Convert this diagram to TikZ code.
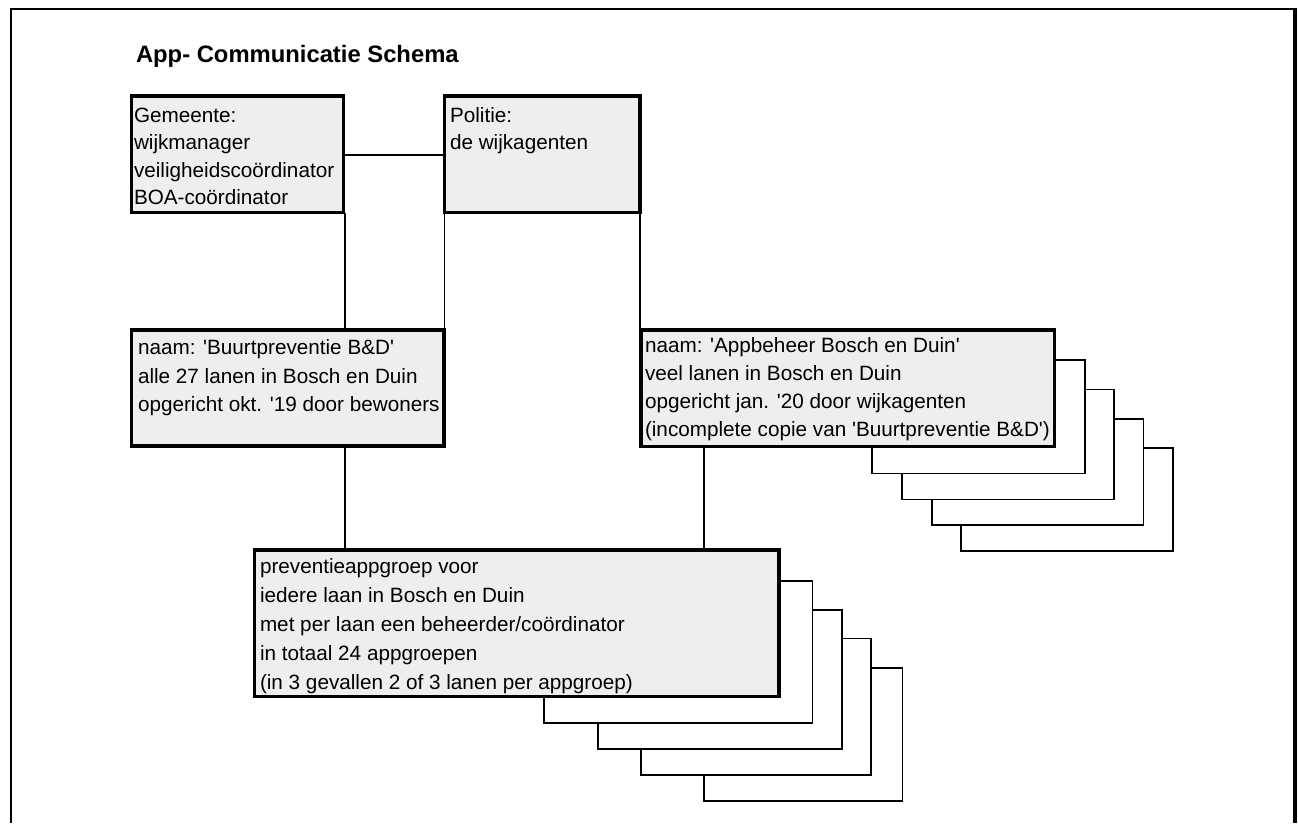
\documentclass[tikz,border=0pt]{standalone}
\usepackage{fontspec}
\setmainfont{Liberation Sans}[Ligatures=TeXOff]
\definecolor{boxgray}{RGB}{238,238,238}
\newcommand\linesat[2]{\vtop{\baselineskip=#1\relax\lineskiplimit=-100pt\lineskip=0pt #2}}
\tikzset{
  mainbox/.style={draw=black, fill=boxgray, line width=3.3pt, inner sep=0pt, outer sep=0pt, anchor=north west},
  stackbox/.style={draw=black, fill=white, line width=1.7pt, inner sep=0pt, outer sep=0pt, anchor=north west},
  txt/.style={anchor=base west, inner sep=0pt, outer sep=0pt, font=\fontsize{20.7}{28}\selectfont},
  titletxt/.style={anchor=base west, inner sep=0pt, outer sep=0pt, font=\fontsize{23.8}{28}\selectfont\bfseries},
  conn/.style={draw=black, line width=1.7pt},
  frame/.style={draw=black},
}
\begin{document}
\begin{tikzpicture}[x=1pt, y=-1pt]
\useasboundingbox (0,0) rectangle (1298,823);
% frame
\draw[frame, line width=2pt] (11,823) -- (11,9) -- (1295,9);
\draw[frame, line width=3.5pt] (1295,8) -- (1295,823);
% title
\node[titletxt] (title) at (136,62) {App- Communicatie Schema};
% stacks behind Appbeheer box
\node[stackbox, minimum width=211.5pt, minimum height=103pt] (ra4) at (961.3,447.8) {};
\node[stackbox, minimum width=211.5pt, minimum height=106.2pt] (ra3) at (932,419) {};
\node[stackbox, minimum width=211.9pt, minimum height=110pt] (ra2) at (902.3,389.5) {};
\node[stackbox, minimum width=213pt, minimum height=113.5pt] (ra1) at (872,360) {};
% stacks behind bottom box
\node[stackbox, minimum width=198.2pt, minimum height=133pt] (rm4) at (704.3,667.8) {};
\node[stackbox, minimum width=229.8pt, minimum height=136.3pt] (rm3) at (641,638.5) {};
\node[stackbox, minimum width=244.1pt, minimum height=139pt] (rm2) at (597.7,609.8) {};
\node[stackbox, minimum width=268.2pt, minimum height=142pt] (rm1) at (544.3,580.8) {};
% main boxes
\node[mainbox, minimum width=212pt, minimum height=116.5pt] (g) at (131.5,96) {};
\node[mainbox, minimum width=195.5pt, minimum height=116.5pt] (p) at (444.5,96) {};
\node[mainbox, minimum width=312.5pt, minimum height=116pt] (b) at (131.5,330) {};
\node[mainbox, minimum width=413.5pt, minimum height=116.5pt] (a) at (641,330) {};
\node[mainbox, minimum width=524.5pt, minimum height=146.5pt] (m) at (254.5,550) {};
% connectors
\coordinate (jl) at (345,0);
\coordinate (jr) at (704.3,0);
\draw[conn] (g.east |- 0,155) -- (p.west |- 0,155);
\draw[conn] (jl |- g.south) -- (jl |- b.north);
\draw[conn] (p.south west) -- (p.south west |- b.north);
\draw[conn] (p.south east) -- (p.south east |- a.north);
\draw[conn] (jl |- b.south) -- (jl |- m.north);
\draw[conn] (jr |- a.south) -- (jr |- m.north);
% texts
\node[txt] (gt) at (134,122.5) {\linesat{27.3pt}{\hbox{Gemeente:}\hbox{wijkmanager}\hbox{veiligheidscoördinator}\hbox{BOA-coördinator}}};
\node[txt] (pt) at (450,122.5) {\linesat{27.3pt}{\hbox{Politie:}\hbox{de wijkagenten}}};
\node[txt] (bt) at (138,354.5) {\linesat{28.5pt}{\hbox{naam: 'Buurtpreventie B\&D'}\hbox{alle 27 lanen in Bosch en Duin}\hbox{opgericht okt. '19 door bewoners}}};
\node[txt] (at) at (645,352) {\linesat{28pt}{\hbox{naam: 'Appbeheer Bosch en Duin'}\hbox{veel lanen in Bosch en Duin}\hbox{opgericht jan. '20 door wijkagenten}\hbox{(incomplete copie van 'Buurtpreventie B\&D')}}};
\node[txt] (mt) at (260,573.3) {\linesat{29pt}{\hbox{preventieappgroep voor}\hbox{iedere laan in Bosch en Duin}\hbox{met per laan een beheerder/coördinator}\hbox{in totaal 24 appgroepen}\hbox{(in 3 gevallen 2 of 3 lanen per appgroep)}}};
\end{tikzpicture}
\end{document}
